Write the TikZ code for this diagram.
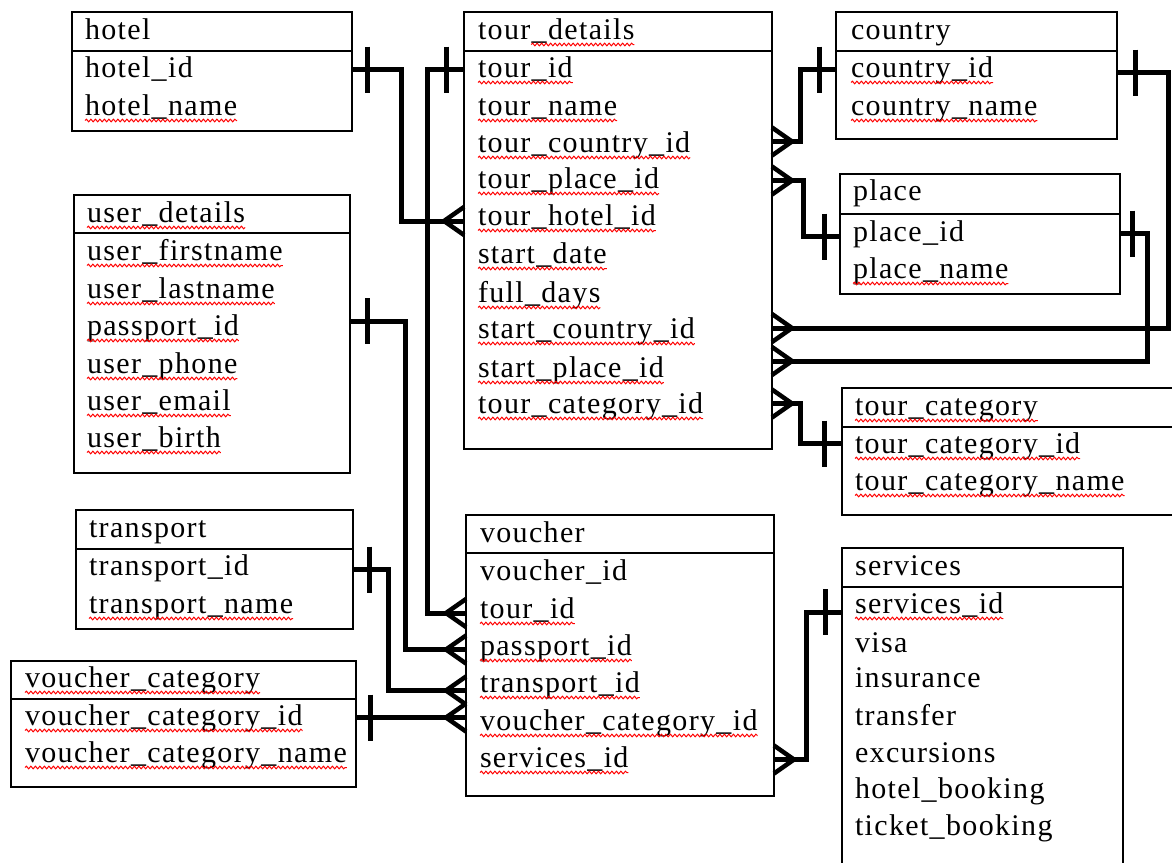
\documentclass[tikz,border=0pt]{standalone}
\usepackage{fontspec}
\setmainfont{Liberation Serif}[LetterSpace=4.5]
\usetikzlibrary{calc,decorations.pathmorphing}
\tikzset{
  tbl/.style={draw, line width=1.2pt, anchor=north west, inner sep=0pt, outer sep=0pt},
  divline/.style={line width=1.2pt},
  fld/.style={anchor=base west, inner sep=0pt, outer sep=0pt, text height=20pt, text depth=5pt,
              font=\fontsize{30pt}{36pt}\selectfont},
  conn/.style={line width=5pt, line cap=butt, line join=miter},
  leg/.style={line width=4.5pt, line cap=butt},
  wavy/.style={draw=red, line width=1pt, decorate, decoration={snake, amplitude=1.3pt, segment length=4.5pt}},
  pics/tick/.style={code={\draw[conn] (#1,-23) -- (#1,23);}},
  pics/tick/.default=16,
  pics/crow/.style={code={\draw[leg] (0,-14) -- (20,0) (0,14) -- (20,0);}},
}
\newcommand\tablebox[6]{%
  \node[tbl, minimum width=#4pt, minimum height=#5pt] (#1) at (#2,#3) {};
  \draw[divline] (#2,#6) -- ++(#4,0);}
\newcommand\fld[4]{\node[fld] (#1) at (#2,#3) {#4};}
\newcommand\wv[2][0]{\draw[wavy] ($(#2.base west)!#1!(#2.base east)+(0,5.5)$) -- ($(#2.base east)+(0,5.5)$);}
\begin{document}
\begin{tikzpicture}[x=1pt, y=-1pt]
\useasboundingbox (0,0) rectangle (1172,862);
\clip (0,0) rectangle (1172,862);
\fill[white] (0,0) rectangle (1172,862);

% tables
\tablebox{hotel}{72}{12}{280}{119}{51}
\tablebox{user}{74}{195}{276}{278}{233}
\tablebox{trans}{76}{510}{277}{119}{549}
\tablebox{vcat}{11}{661}{345}{126}{699}
\tablebox{tdet}{464}{12}{308}{437}{51}
\tablebox{vouch}{466}{515}{308}{281}{553}
\tablebox{ctry}{836}{12}{281}{127}{51}
\tablebox{place}{840}{174}{280}{120}{214}
\tablebox{tcat}{842}{388}{360}{127}{427}
\tablebox{serv}{842}{548}{281}{360}{587}

% fields
\fld{hotel-h}{85}{39}{hotel}
\fld{hotel-id}{85}{77}{hotel\_id}
\fld{hotel-name}{85}{115}{hotel\_name}

\fld{u-h}{87}{222}{user\_details}
\fld{u-first}{87}{260}{user\_firstname}
\fld{u-last}{87}{298}{user\_lastname}
\fld{u-pass}{87}{335}{passport\_id}
\fld{u-phone}{87}{373}{user\_phone}
\fld{u-email}{87}{410}{user\_email}
\fld{u-birth}{87}{447}{user\_birth}

\fld{t-h}{89}{537}{transport}
\fld{t-id}{89}{575}{transport\_id}
\fld{t-name}{89}{613}{transport\_name}

\fld{vc-h}{25}{687}{voucher\_category}
\fld{vc-id}{25}{725}{voucher\_category\_id}
\fld{vc-name}{25}{762}{voucher\_category\_name}

\fld{td-h}{478}{39}{tour\_details}
\fld{td-id}{478}{77}{tour\_id}
\fld{td-name}{478}{115}{tour\_name}
\fld{td-cid}{478}{152}{tour\_country\_id}
\fld{td-pid}{478}{188}{tour\_place\_id}
\fld{td-hotel}{478}{225}{tour\_hotel\_id}
\fld{td-sdate}{478}{263}{start\_date}
\fld{td-days}{478}{302}{full\_days}
\fld{td-scid}{478}{338}{start\_country\_id}
\fld{td-spid}{478}{377}{start\_place\_id}
\fld{td-tcid}{478}{413}{tour\_category\_id}

\fld{v-h}{480}{542}{voucher}
\fld{v-id}{480}{580}{voucher\_id}
\fld{v-tour}{480}{618}{tour\_id}
\fld{v-pass}{480}{655}{passport\_id}
\fld{v-trans}{480}{692}{transport\_id}
\fld{v-vc}{480}{730}{voucher\_category\_id}
\fld{v-serv}{480}{767}{services\_id}

\fld{c-h}{851}{39}{country}
\fld{c-id}{851}{77}{country\_id}
\fld{c-name}{851}{115}{country\_name}

\fld{p-h}{853}{200}{place}
\fld{p-id}{853}{241}{place\_id}
\fld{p-name}{853}{278}{place\_name}

\fld{tc-h}{855}{415}{tour\_category}
\fld{tc-id}{855}{453}{tour\_category\_id}
\fld{tc-name}{855}{490}{tour\_category\_name}

\fld{s-h}{855}{575}{services}
\fld{s-id}{855}{613}{services\_id}
\fld{s-visa}{855}{652}{visa}
\fld{s-ins}{855}{687}{insurance}
\fld{s-tr}{855}{725}{transfer}
\fld{s-exc}{855}{762}{excursions}
\fld{s-hb}{855}{798}{hotel\_booking}
\fld{s-tb}{855}{835}{ticket\_booking}

% spell-check wavy underlines
\foreach \n in {hotel-name,u-h,u-first,u-last,u-pass,u-phone,u-email,u-birth,t-name,
  vc-h,vc-id,vc-name,td-id,td-name,td-cid,td-pid,td-hotel,td-sdate,td-days,td-scid,td-spid,td-tcid,
  v-tour,v-pass,v-trans,v-vc,v-serv,c-id,c-name,p-name,tc-h,tc-id,tc-name,s-id}{\wv{\n}}
\wv[0.34]{td-h}

% connection points
\coordinate (a1) at (hotel.east |- hotel-id);
\coordinate (a2) at ($(tdet.west |- td-hotel)+(0,3.5)$);
\coordinate (b1) at (tdet.west |- td-id);
\coordinate (b2) at ($(vouch.west |- v-tour)+(0,2.5)$);
\coordinate (c1) at ($(user.east |- u-pass)+(0,-6.5)$);
\coordinate (c2) at ($(vouch.west |- v-pass)+(0,2)$);
\coordinate (d1) at ($(trans.east |- t-id)+(0,2)$);
\coordinate (d2) at ($(vouch.west |- v-trans)+(0,6)$);
\coordinate (e1) at (vcat.east |- vc-id);
\coordinate (e2) at (vouch.west |- vc-id);
\coordinate (f1) at (vouch.east |- v-serv);
\coordinate (f2) at ($(serv.west |- s-id)+(0,6.5)$);
\coordinate (g1) at ($(tdet.east |- td-cid)+(0,-3)$);
\coordinate (g2) at (ctry.west |- c-id);
\coordinate (k1) at (tdet.east |- td-pid);
\coordinate (k2) at ($(place.west |- p-id)+(0,3)$);
\coordinate (m1) at ($(ctry.east |- c-id)+(0,3)$);
\coordinate (m2) at ($(tdet.east |- td-scid)+(0,-2.5)$);
\coordinate (n1) at (place.east |- p-id);
\coordinate (n2) at ($(tdet.east |- td-spid)+(0,-8.5)$);
\coordinate (q1) at ($(tdet.east |- td-tcid)+(0,-2)$);
\coordinate (q2) at ($(tcat.west |- tc-id)+(0,-2)$);

% connectors
\draw[conn] (a1) -- ++(49,0) |- (a2);
\draw[conn] (b1) -- ++(-37,0) |- (b2);
\draw[conn] (c1) -- ++(55,0) |- (c2);
\draw[conn] (d1) -- ++(35,0) |- (d2);
\draw[conn] (e1) -- (e2);
\draw[conn] (f1) -- ++(32,0) |- (f2);
\draw[conn] (g1) -- ++(28,0) |- (g2);
\draw[conn] (k1) -- ++(31,0) |- (k2);
\draw[conn] (m1) -- ++(51,0) |- (m2);
\draw[conn] (n1) -- ++(27,0) |- (n2);
\draw[conn] (q1) -- ++(28,0) |- (q2);

% one-side bars
\pic at (a1) {tick=15};
\pic[xscale=-1] at (b1) {tick=18};
\pic at (c1) {tick=17};
\pic at (d1) {tick=16};
\pic at (e1) {tick=14};
\pic[xscale=-1] at (f2) {tick=17};
\pic[xscale=-1] at (g2) {tick=17};
\pic[xscale=-1] at (k2) {tick=16};
\pic at (m1) {tick=18};
\pic at (n1) {tick=12};
\pic[xscale=-1] at (q2) {tick=18};

% crow's feet
\pic[xscale=-1] at (a2) {crow};
\pic[xscale=-1] at (b2) {crow};
\pic[xscale=-1] at (c2) {crow};
\pic[xscale=-1] at (d2) {crow};
\pic[xscale=-1] at (e2) {crow};
\pic at (f1) {crow};
\pic at (g1) {crow};
\pic at (k1) {crow};
\pic at (m2) {crow};
\pic at (n2) {crow};
\pic at (q1) {crow};
\end{tikzpicture}
\end{document}
